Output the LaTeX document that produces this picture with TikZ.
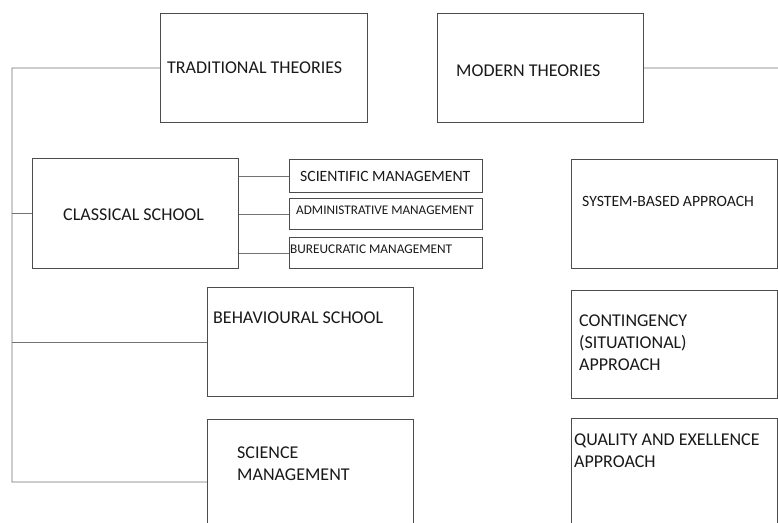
\documentclass[tikz,border=0pt]{standalone}
\usepackage{fontspec}
\setmainfont{Carlito}
\begin{document}
\begin{tikzpicture}[x=1pt,y=-1pt,
  box/.style={draw=black!70, line width=0.9pt, rectangle, inner sep=0pt, anchor=north west},
  conn/.style={draw=black!55, line width=0.8pt},
  lbl/.style={inner sep=0pt, anchor=west, align=left, text=black!90, font=\fontsize{18}{22}\selectfont},
  slbl/.style={inner sep=0pt, anchor=west, text=black!90}]
\clip (0,0) rectangle (778,522);
\fill[white] (0,0) rectangle (778,522);
% boxes
\node[box, minimum width=207pt, minimum height=109pt] (trad) at (160,13) {};
\node[box, minimum width=206pt, minimum height=109pt] (mod) at (437,13) {};
\node[box, minimum width=206pt, minimum height=110pt] (cls) at (32,158) {};
\node[box, minimum width=193pt, minimum height=33pt] (sm) at (289,159) {};
\node[box, minimum width=193pt, minimum height=31pt] (am) at (289,198) {};
\node[box, minimum width=193pt, minimum height=31pt] (bm) at (289,237) {};
\node[box, minimum width=206pt, minimum height=109pt] (beh) at (207,287) {};
\node[box, minimum width=206pt, minimum height=120pt] (scm) at (207,419) {};
\node[box, minimum width=206pt, minimum height=109pt] (sys) at (571,159) {};
\node[box, minimum width=206pt, minimum height=108pt] (con) at (571,290) {};
\node[box, minimum width=206pt, minimum height=120pt] (qua) at (571,418) {};
% labels
\node[lbl] (tradt) at (167,68) {TRADITIONAL THEORIES};
\node[lbl] (modt) at (456,71) {MODERN THEORIES};
\node[lbl] (clst) at (63,215) {CLASSICAL SCHOOL};
\node[slbl, font=\fontsize{15.7}{17}\selectfont] (smt) at (300,176) {SCIENTIFIC MANAGEMENT};
\node[slbl, font=\fontsize{13.2}{15}\selectfont] (amt) at (296,210) {ADMINISTRATIVE MANAGEMENT};
\node[slbl, font=\fontsize{13.3}{15}\selectfont] (bmt) at (290,249) {BUREUCRATIC MANAGEMENT};
\node[lbl] (beht) at (213,318) {BEHAVIOURAL SCHOOL};
\node[lbl] (scmt) at (237,464) {SCIENCE\\MANAGEMENT};
\node[lbl, font=\fontsize{15.7}{21}\selectfont] (syst) at (582,201) {SYSTEM-BASED APPROACH};
\node[lbl] (cont) at (579,343) {CONTINGENCY\\(SITUATIONAL)\\APPROACH};
\node[lbl] (quat) at (574,451) {QUALITY AND EXELLENCE\\APPROACH};
% connectors
\coordinate (ltop) at (12,68);
\coordinate (lbot) at (12,482);
\coordinate (rend) at (778,68);
\draw[conn] (trad.west) -- (ltop) -- (lbot) -- (lbot -| scm.west);
\draw[conn] (ltop |- cls.west) -- (cls.west);
\draw[conn] (ltop |- beh.west) -- (beh.west);
\draw[conn] (mod.east) -- (rend);
\draw[conn] (cls.east |- sm.west) -- (sm.west);
\draw[conn] (cls.east |- am.west) -- (am.west);
\draw[conn] (cls.east |- bm.west) -- (bm.west);
\end{tikzpicture}
\end{document}
